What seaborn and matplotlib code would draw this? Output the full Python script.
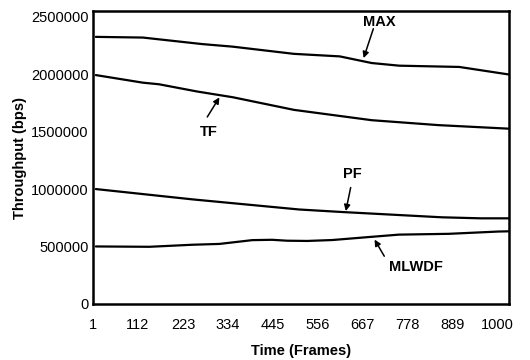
import matplotlib
matplotlib.use("Agg")
import matplotlib.pyplot as plt
import seaborn as sns
import pandas as pd

# ---- data ----
max_frames = [8, 124, 271, 345, 497, 610, 689, 757, 905, 1028]
max_vals = [2326000, 2320000, 2263000, 2241000, 2178000, 2156000, 2098000, 2075000, 2064000, 1998000]

tf_frames = [8, 124, 164, 258, 346, 497, 689, 854, 1028]
tf_vals = [1993000, 1927000, 1913000, 1850000, 1800000, 1690000, 1600000, 1557000, 1526000]

pf_frames = [8, 247, 510, 616, 862, 958, 1028]
pf_vals = [1000000, 910000, 822000, 800000, 754000, 745000, 745000]

mlwdf_frames = [8, 140, 247, 313, 394, 443, 480, 530, 592, 675, 756, 879, 1002, 1028]
mlwdf_vals = [500000, 497000, 515000, 522000, 555000, 558000, 550000, 548000, 556000, 580000, 603000, 610000, 630000, 632000]

x_ticks = [1, 112, 223, 334, 445, 556, 667, 778, 889, 1000]
y_ticks = [0, 500000, 1000000, 1500000, 2000000, 2500000]

frames_all = max_frames + tf_frames + pf_frames + mlwdf_frames
vals_all = max_vals + tf_vals + pf_vals + mlwdf_vals
series_all = (["MAX"] * len(max_frames) + ["TF"] * len(tf_frames)
              + ["PF"] * len(pf_frames) + ["MLWDF"] * len(mlwdf_frames))
df = pd.DataFrame({"frame": frames_all, "thr": vals_all, "series": series_all})

sns.set_theme(style="white")
plt.rcParams["font.family"] = ["Liberation Sans", "DejaVu Sans"]

fig = plt.figure(figsize=(5.3, 3.6), dpi=100)
ax = fig.add_axes([0.1755, 0.156, 0.785, 0.813])

sns.lineplot(data=df, x="frame", y="thr", hue="series",
             palette={"MAX": "black", "TF": "black", "PF": "black", "MLWDF": "black"},
             linewidth=1.6, legend=False, ax=ax, estimator=None, sort=True)

ax.set_xlim(7, 1028)
ax.set_ylim(0, 2550000)
ax.set_xticks(x_ticks)
ax.set_xticklabels([str(t) for t in x_ticks])
ax.set_yticks(y_ticks)
ax.set_yticklabels([str(t) for t in y_ticks])
ax.tick_params(axis="both", length=0, labelsize=10.5, colors="black")
ax.tick_params(axis="x", pad=10)
ax.tick_params(axis="y", pad=3)

for s in ax.spines.values():
    s.set_visible(True)
    s.set_color("black")
    s.set_linewidth(1.8)

ax.set_xlabel("Time (Frames)", fontsize=10.5, fontweight="bold", color="black", labelpad=9)
ax.set_ylabel("Throughput (bps)", fontsize=10.5, fontweight="bold", color="black", labelpad=3)

arrow = dict(arrowstyle="-|>", color="black", lw=1.1, mutation_scale=9, shrinkA=0, shrinkB=0)
# (label, arrow tip, arrow start, text position) in data coordinates
ann = [
    ("MAX", (669, 2141000), (693, 2397000), (708, 2457000)),
    ("TF", (313, 1799000), (283, 1628000), (288, 1500000)),
    ("PF", (625, 808000), (637, 1013000), (640, 1132000)),
    ("MLWDF", (696, 560000), (720, 415000), (799, 320000)),
]
for label, tip, start, txt in ann:
    ax.annotate("", xy=tip, xytext=start, arrowprops=arrow)
    ax.text(txt[0], txt[1], label, fontsize=10.5, fontweight="bold",
            ha="center", va="center", color="black")

fig.savefig("out.png", dpi=100)
